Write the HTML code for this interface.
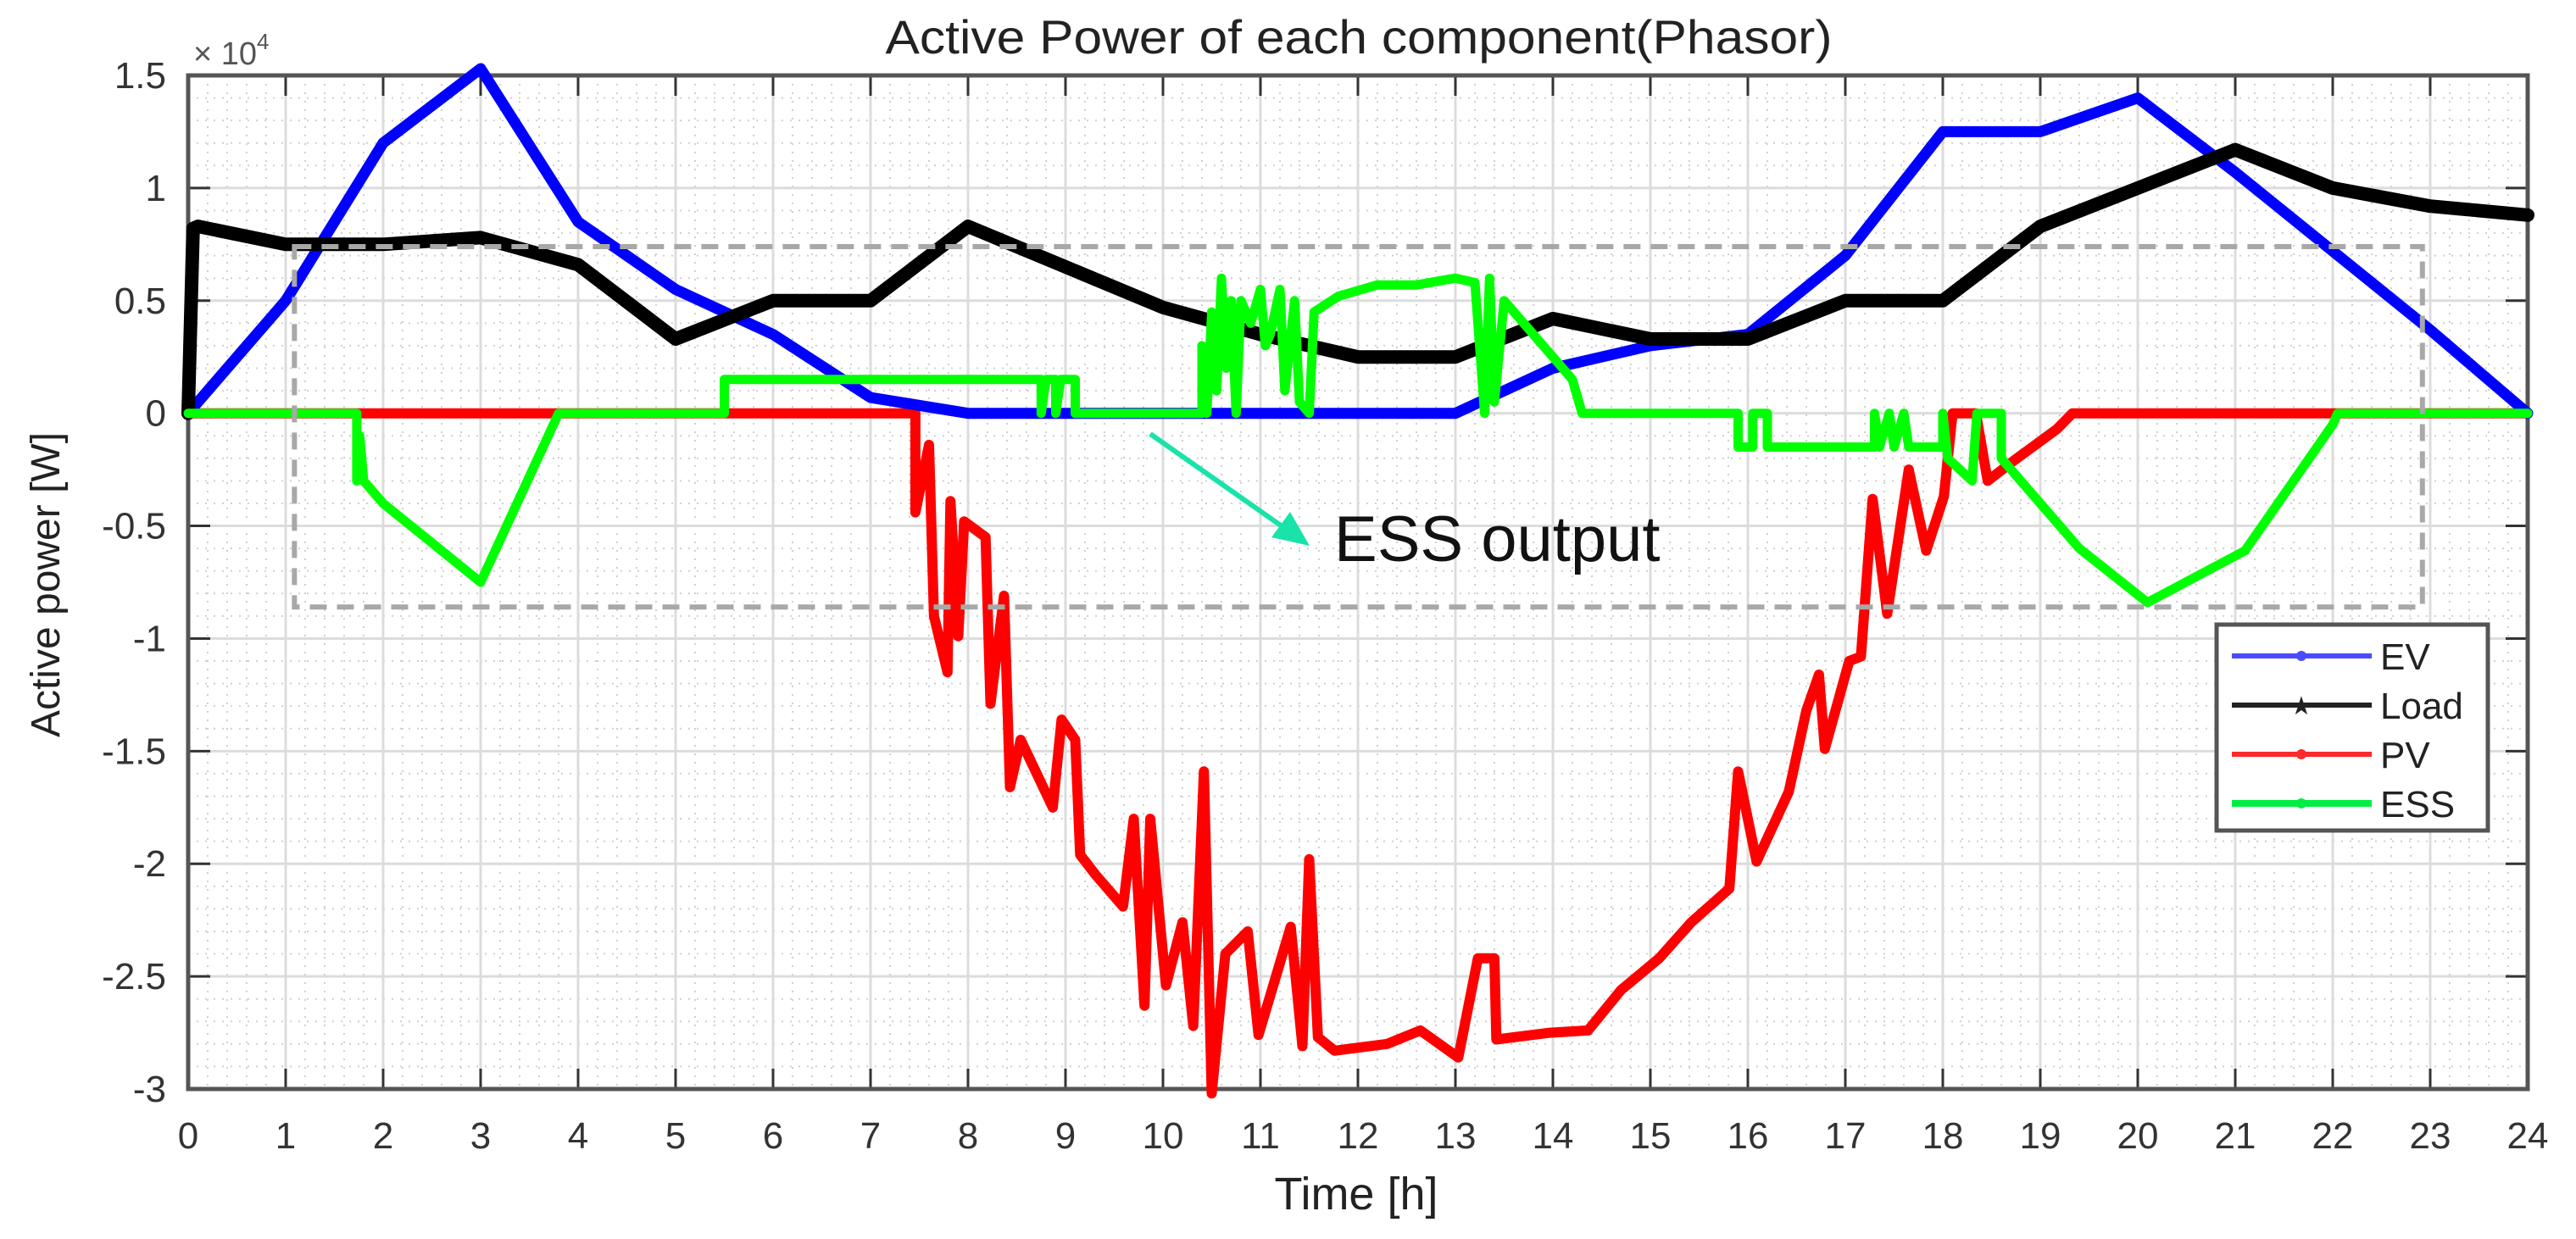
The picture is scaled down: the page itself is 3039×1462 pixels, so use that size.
<!DOCTYPE html>
<html><head><meta charset="utf-8">
<style>
html,body{margin:0;padding:0;background:#fff;}
svg{display:block;font-family:"Liberation Sans",sans-serif;}
</style></head>
<body>
<svg id="chart" width="3039" height="1462" viewBox="0 0 3039 1462" xmlns="http://www.w3.org/2000/svg">
<rect x="0" y="0" width="3039" height="1462" fill="#fff"/>
<text x="1603" y="63" font-size="56" fill="#222" text-anchor="middle" textLength="1117" lengthAdjust="spacingAndGlyphs">Active Power of each component(Phasor)</text>
<text x="228" y="76" font-size="38" fill="#555">× 10<tspan dy="-18" font-size="26">4</tspan></text>
<text transform="translate(70,690) rotate(-90)" font-size="48" fill="#222" text-anchor="middle">Active power [W]</text>
<text x="1600" y="1427" font-size="54" fill="#222" text-anchor="middle">Time [h]</text>
<g id="grid"></g>
<g id="ticks"></g>
<g id="series"></g>
<g id="annot"></g>
<g id="legend"></g>
</svg>
<script>
const xTicks = [0,1,2,3,4,5,6,7,8,9,10,11,12,13,14,15,16,17,18,19,20,21,22,23,24];
const yTicks = [1.5,1,0.5,0,-0.5,-1,-1.5,-2,-2.5,-3];
const yTickLabels = ["1.5","1","0.5","0","-0.5","-1","-1.5","-2","-2.5","-3"];
const evHours = [0,1,2,3,4,5,6,7,8,13,14,15,16,17,18,19,20,21,22,23,24];
const evValues = [0,0.5,1.2,1.53,0.85,0.55,0.35,0.07,0,0,0.2,0.3,0.35,0.7,1.25,1.25,1.4,1.07,0.72,0.37,0];
const loadHours = [0,0.05,0.1,1,2,3,4,5,6,7,8,9,10,11,12,13,14,15,16,17,18,19,20,21,22,23,24];
const loadValues = [0,0.82,0.83,0.75,0.75,0.78,0.66,0.33,0.5,0.5,0.83,0.65,0.47,0.35,0.25,0.25,0.42,0.33,0.33,0.5,0.5,0.83,1.0,1.17,1.0,0.92,0.88];
const pvHours = [0,7.46,7.46,7.6,7.65,7.79,7.82,7.9,7.96,8.18,8.23,8.37,8.43,8.54,8.87,8.96,9.1,9.15,9.31,9.59,9.7,9.81,9.87,10.03,10.2,10.31,10.42,10.5,10.64,10.87,10.98,11.31,11.43,11.5,11.59,11.76,12.3,12.64,13.03,13.23,13.4,13.42,13.97,14.36,14.7,15.09,15.42,15.81,15.9,16.09,16.42,16.6,16.73,16.79,17.04,17.16,17.28,17.43,17.65,17.83,18.01,18.1,18.34,18.46,18.73,19.17,19.33,24];
const pvValues = [0,0,-0.44,-0.14,-0.9,-1.15,-0.39,-0.99,-0.48,-0.55,-1.29,-0.81,-1.66,-1.45,-1.75,-1.36,-1.45,-1.96,-2.05,-2.19,-1.8,-2.63,-1.8,-2.54,-2.26,-2.72,-1.59,-3.02,-2.4,-2.3,-2.76,-2.28,-2.81,-1.98,-2.77,-2.83,-2.8,-2.74,-2.86,-2.42,-2.42,-2.78,-2.75,-2.74,-2.56,-2.42,-2.26,-2.11,-1.59,-1.99,-1.68,-1.32,-1.16,-1.49,-1.1,-1.08,-0.38,-0.89,-0.25,-0.61,-0.37,0,0,-0.3,-0.21,-0.07,0,0];
const essHours = [0,1.73,1.73,1.76,1.8,2,3,3.8,5.5,5.5,8.75,8.75,8.8,8.9,8.9,8.95,9.1,9.1,10.4,10.4,10.45,10.5,10.55,10.6,10.65,10.7,10.75,10.8,10.9,11.0,11.05,11.1,11.2,11.25,11.35,11.4,11.5,11.55,11.8,12.2,12.6,13.0,13.2,13.3,13.35,13.4,13.5,13.7,14.0,14.2,14.3,15.9,15.9,16.05,16.05,16.2,16.2,17.3,17.3,17.35,17.45,17.5,17.6,17.65,18.0,18.0,18.05,18.3,18.35,18.6,18.6,18.7,19.4,20.1,21.1,22.0,22.05,24];
const essValues = [0,0,-0.3,-0.1,-0.3,-0.4,-0.75,0,0,0.15,0.15,0,0.15,0.15,0,0.15,0.15,0,0,0.3,0,0.45,0.1,0.6,0.2,0.5,0,0.5,0.4,0.55,0.3,0.35,0.55,0.1,0.5,0.05,0,0.45,0.52,0.57,0.57,0.6,0.58,0,0.6,0.05,0.5,0.4,0.25,0.15,0,0,-0.15,-0.15,0,0,-0.15,-0.15,0,-0.15,0,-0.15,0,-0.15,-0.15,0,-0.2,-0.3,0,0,-0.2,-0.25,-0.6,-0.84,-0.61,-0.05,0,0];
const legendLabels = ["EV","Load","PV","ESS"];
const legendColors = ["#4a4aff","#222","#ff2a2a","#00ee44"];

const NS = "http://www.w3.org/2000/svg";
const L = 222, R = 2982, T = 89, B = 1285;
const xMin = 0, xMax = 24, yMin = -3, yMax = 1.5;
function sx(v){ return L + (v - xMin) / (xMax - xMin) * (R - L); }
function sy(v){ return B - (v - yMin) / (yMax - yMin) * (B - T); }
function mk(tag, attrs, parent){
  const el = document.createElementNS(NS, tag);
  for (const k in attrs) el.setAttribute(k, attrs[k]);
  parent.appendChild(el);
  return el;
}
const grid = document.getElementById('grid');
const ticks = document.getElementById('ticks');
for (let h = 0; h <= 24.001; h += 0.2) {
  const el = mk('line', {x1:sx(h), x2:sx(h), y1:T, y2:B, stroke:'#d0d0d0', 'stroke-width':2, 'stroke-dasharray':'2 8'}, grid);
  
  
}
for (let v = -3; v <= 1.501; v += 0.1) {
  const el = mk('line', {x1:L, x2:R, y1:sy(v), y2:sy(v), stroke:'#d0d0d0', 'stroke-width':2, 'stroke-dasharray':'2 8'}, grid);
  
  
}
xTicks.forEach(function(t){
  const g = mk('line', {x1:sx(t), x2:sx(t), y1:T, y2:B, stroke:'#dcdcdc', 'stroke-width':3}, grid);
  
  
  const tk = mk('line', {x1:sx(t), x2:sx(t), y1:B, y2:B-24, stroke:'#333', 'stroke-width':3}, ticks);
  
  
  const tk2 = mk('line', {x1:sx(t), x2:sx(t), y1:T, y2:T+24, stroke:'#333', 'stroke-width':3}, ticks);
  
  
  const lb = mk('text', {x:sx(t), y:B+70, 'font-size':44, fill:'#333', 'text-anchor':'middle'}, ticks);
  lb.textContent = String(t);
  
  
});
yTicks.forEach(function(t, i){
  const g = mk('line', {x1:L, x2:R, y1:sy(t), y2:sy(t), stroke:'#dcdcdc', 'stroke-width':3}, grid);
  
  
  const tk = mk('line', {x1:L, x2:L+26, y1:sy(t), y2:sy(t), stroke:'#333', 'stroke-width':3}, ticks);
  
  
  const tk2 = mk('line', {x1:R, x2:R-26, y1:sy(t), y2:sy(t), stroke:'#333', 'stroke-width':3}, ticks);
  
  
  const lb = mk('text', {x:L-26, y:sy(t)+15, 'font-size':44, fill:'#333', 'text-anchor':'end'}, ticks);
  lb.textContent = yTickLabels[i];
  
  
});
const frame = mk('rect', {x:L, y:T, width:R-L, height:B-T, fill:'none', stroke:'#555', 'stroke-width':5}, ticks);



const series = document.getElementById('series');
function drawLine(hs, vs, color, name, w){
  const d = hs.map(function(h, i){ return (i ? 'L' : 'M') + sx(h).toFixed(1) + ' ' + sy(vs[i]).toFixed(1); }).join(' ');
  const p = mk('path', {d:d, fill:'none', stroke:color, 'stroke-width':w, 'stroke-linejoin':'round', 'stroke-linecap':'round'}, series);
  
  
}
drawLine(pvHours, pvValues, '#ff0000', 'pv-line', 12);
drawLine(evHours, evValues, '#0000ff', 'ev-line', 13);
drawLine(loadHours, loadValues, '#000000', 'load-line', 16);
drawLine(essHours, essValues, '#00ff00', 'ess-line', 11);

const annot = document.getElementById('annot');
const box = mk('rect', {x:sx(1.09), y:sy(0.74), width:sx(22.92)-sx(1.09), height:sy(-0.86)-sy(0.74), fill:'none', stroke:'#a8a8a8', 'stroke-width':6, 'stroke-dasharray':'20 12'}, annot);


const arr = mk('line', {x1:1357, y1:512, x2:1528, y2:632, stroke:'#19e3a8', 'stroke-width':6}, annot);


const head = mk('polygon', {points:'1545,644 1500,634 1522,604', fill:'#19e3a8'}, annot);


const at = mk('text', {x:1574, y:662, 'font-size':76, fill:'#111'}, annot);
at.textContent = 'ESS output';



const legend = document.getElementById('legend');
const lb = mk('rect', {x:2615, y:737, width:320, height:243, fill:'#fff', stroke:'#555', 'stroke-width':5}, legend);


legendLabels.forEach(function(lab, i){
  const y = 774 + i * 58;
  const ln = mk('line', {x1:2633, x2:2798, y1:y, y2:y, stroke:legendColors[i], 'stroke-width':i===3?8:6}, legend);
  
  
  let mark;
  if (i === 1) {
    mark = mk('text', {x:2715, y:y+11, 'font-size':30, fill:'#222', 'text-anchor':'middle'}, legend);
    mark.textContent = '★';
  } else {
    mark = mk('circle', {cx:2715, cy:y, r:6, fill:legendColors[i]}, legend);
  }
  
  
  const tx = mk('text', {x:2808, y:y+16, 'font-size':44, fill:'#222'}, legend);
  tx.textContent = lab;
  
  
});
</script>
</body></html>
